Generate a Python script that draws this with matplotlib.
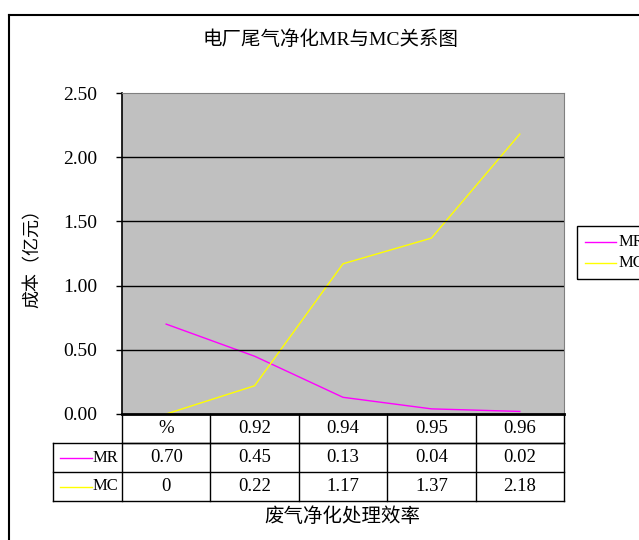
import matplotlib.pyplot as plt
from matplotlib.lines import Line2D
from matplotlib.patches import Rectangle

plt.rcParams['font.family'] = ['Liberation Serif', 'Noto Sans CJK SC', 'DejaVu Sans']

categories = ['%', '0.92', '0.94', '0.95', '0.96']
mr = [0.70, 0.45, 0.13, 0.04, 0.02]
mc = [0.0, 0.22, 1.17, 1.37, 2.18]
mr_labels = ['0.70', '0.45', '0.13', '0.04', '0.02']
mc_labels = ['0', '0.22', '1.17', '1.37', '2.18']
yticks = [0.0, 0.5, 1.0, 1.5, 2.0, 2.5]

W, H = 639, 540
fig = plt.figure(figsize=(W / 100, H / 100), dpi=100)

def fx(px):
    return px / W

def fy(py):
    return 1 - py / H

# outer chart frame (left and top edges only visible)
fig.add_artist(Line2D([fx(8.5), fx(8.5)], [fy(14.5), fy(545)], color='black', lw=1.5))
fig.add_artist(Line2D([fx(8.5), fx(645)], [fy(14.5), fy(14.5)], color='black', lw=1.5))

left, right, top, bottom = 122, 564, 93, 414
ax = fig.add_axes([fx(left), fy(bottom), fx(right - left), (bottom - top) / H])
ax.set_facecolor('#c0c0c0')

n = len(categories)
xs = list(range(n))
ax.plot(xs, mr, color='#ff00ff', lw=1)
ax.plot(xs, mc, color='#ffff00', lw=1)
ax.set_xlim(-0.5, n - 0.5)
ax.set_ylim(0, 2.5)
ax.set_yticks(yticks)
ax.set_yticklabels([f'{v:.2f}' for v in yticks], fontsize=14)
ax.tick_params(axis='y', length=4, width=1, pad=14)
ax.set_xticks([])
for v in yticks[1:-1]:
    ax.axhline(v, color='black', lw=1)

ax.spines['top'].set_color('#808080')
ax.spines['right'].set_color('#808080')
ax.spines['left'].set_linewidth(1.2)
ax.spines['bottom'].set_linewidth(2)
ax.set_ylabel('成本（亿元）', fontsize=13)
ax.yaxis.set_label_coords((42 - left) / (right - left), 0.5)

# data table under the axis
rh = 29 / (bottom - top)
lab_left = (53 - left) / (right - left)
cw = 1 / n
tr = ax.transAxes
kw = dict(transform=tr, clip_on=False, color='black', lw=1)
ax.add_line(Line2D([0, 1], [-rh, -rh], **kw))
ax.add_line(Line2D([lab_left, 1], [-rh, -rh], **kw))
ax.add_line(Line2D([lab_left, 1], [-2 * rh, -2 * rh], **kw))
ax.add_line(Line2D([lab_left, 1], [-3 * rh, -3 * rh], **kw))
for i in range(n + 1):
    ax.add_line(Line2D([i * cw, i * cw], [0, -3 * rh], **kw))
ax.add_line(Line2D([lab_left, lab_left], [-rh, -3 * rh], **kw))

for i, c in enumerate(categories):
    ax.text((i + 0.5) * cw, -0.5 * rh, c, transform=tr, ha='center', va='center', fontsize=13.5)
    ax.text((i + 0.5) * cw, -1.5 * rh, mr_labels[i], transform=tr, ha='center', va='center', fontsize=13.5)
    ax.text((i + 0.5) * cw, -2.5 * rh, mc_labels[i], transform=tr, ha='center', va='center', fontsize=13.5)

for k, (name, col) in enumerate([('MR', '#ff00ff'), ('MC', '#ffff00')]):
    yy = -(1.5 + k) * rh
    x0 = (60 - left) / (right - left)
    x1 = (92 - left) / (right - left)
    ax.add_line(Line2D([x0, x1], [yy, yy], transform=tr, clip_on=False, color=col, lw=1))
    ax.text(-4 / (right - left), yy, name, transform=tr, ha='right', va='center', fontsize=12)

ax.text((342 - left) / (right - left), (bottom - 517) / (bottom - top), '废气净化处理效率',
        transform=tr, ha='center', va='center', fontsize=14)

fig.text(fx(331), fy(40), '电厂尾气净化MR与MC关系图', ha='center', va='center', fontsize=14)

# legend box on the right (cut by the image edge, as in the original)
fig.add_artist(Rectangle((fx(577), fy(279)), fx(80), (279 - 226) / H,
                         fill=False, edgecolor='black', lw=1))
for k, (name, col) in enumerate([('MR', '#ff00ff'), ('MC', '#ffff00')]):
    yy = 242 + k * 21
    fig.add_artist(Line2D([fx(585), fx(616)], [fy(yy), fy(yy)], color=col, lw=1))
    fig.text(fx(619), fy(yy), name, ha='left', va='center', fontsize=12)

fig.savefig('out.png', dpi=100)
